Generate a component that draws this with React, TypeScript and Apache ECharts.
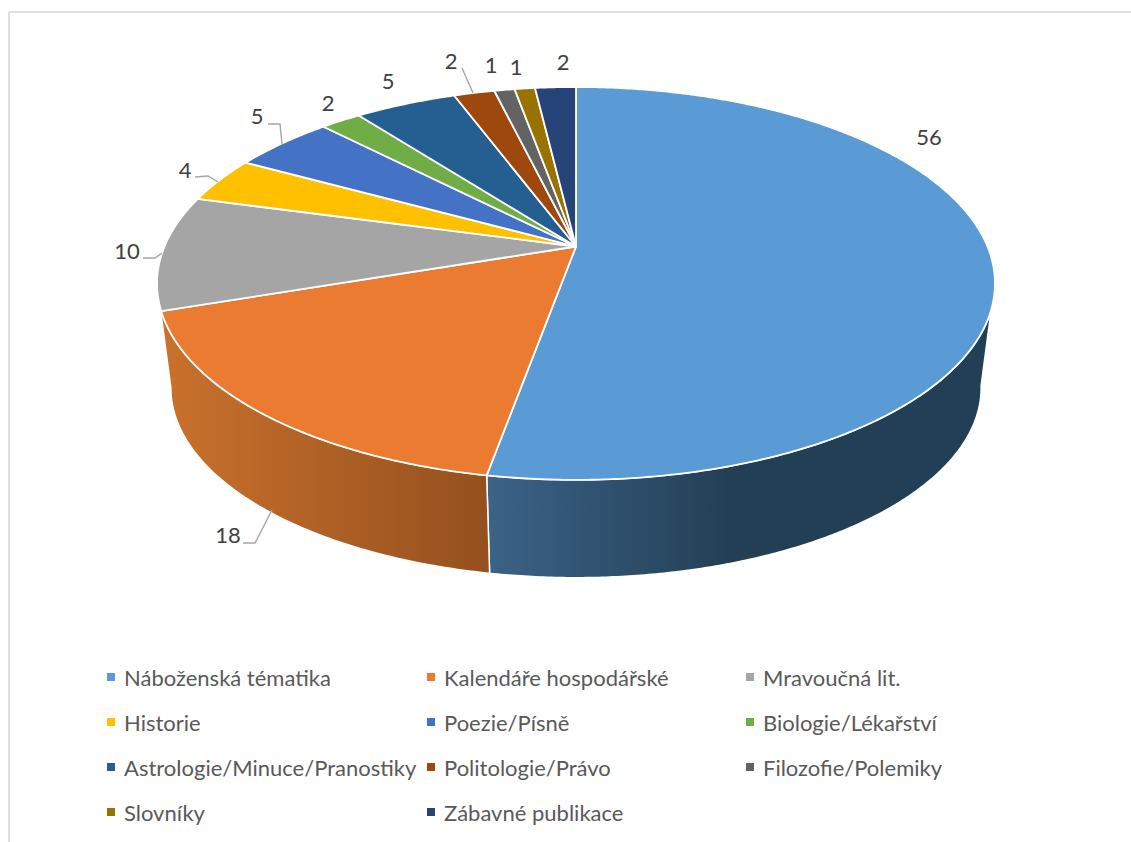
import React, { useEffect, useRef } from "react";
import * as echarts from "echarts";

const categories = [
  "Náboženská tématika",
  "Kalendáře hospodářské",
  "Mravoučná lit.",
  "Historie",
  "Poezie/Písně",
  "Biologie/Lékařství",
  "Astrologie/Minuce/Pranostiky",
  "Politologie/Právo",
  "Filozofie/Polemiky",
  "Slovníky",
  "Zábavné publikace",
];
const values = [56, 18, 10, 4, 5, 2, 5, 2, 1, 1, 2];
const colors = ["#5B9BD5", "#EA7B31", "#A5A5A5", "#FFC000", "#4472C4", "#70AD47", "#255E91", "#9E480E", "#636363", "#997300", "#264478"];

// label layout (label centre, then optional leader line)
const labelCentres = [[929, 136], [228, 534], [127, 250], [185, 169], [257, 115], [328, 102], [388, 80], [451, 60], [491, 64], [516, 66], [563, 61]];
const leaders: (number[][] | null)[] = [
  null,
  [[243, 543], [255, 543], [272, 510]],
  [[143, 258], [155, 258], [162, 253]],
  [[195, 177], [208, 176], [218, 182]],
  [[268, 124], [280, 124], [282, 144]],
  null,
  null,
  [[462, 68], [473, 93]],
  null,
  null,
  null,
];

// perspective of the pie disc
const CX = 576, CY = 246.5, A = 411.5, B = 189.5, K = 0.188;
const SHRINK = 0.967, DROP = 105.5;
const FONT = "Lato";
const SILHOUETTE_LEFT = Math.PI + Math.PI / 2 - Math.asin(K);
const SILHOUETTE_RIGHT = Math.PI / 2 + Math.asin(K);

const total = values.reduce((a, b) => a + b, 0);
function top(theta: number) {
  const X = Math.sin(theta), Y = Math.cos(theta), w = 1 + K * Y;
  return [CX + (A * X) / w, CY - (B * Y) / w];
}
function bottom(theta: number) {
  const p = top(theta);
  return [CX + (p[0] - CX) * SHRINK, CY + DROP + (p[1] - CY) * SHRINK];
}
function arc(fn: (t: number) => number[], a: number, b: number) {
  const n = Math.max(2, Math.ceil(Math.abs(b - a) / 0.008));
  const out: number[][] = [];
  for (let i = 0; i <= n; i++) out.push(fn(a + ((b - a) * i) / n));
  return out;
}
const sideGradients: Record<number, [number, number, string, string]> = {
  0: [490, 730, "#3B6287", "#233F55"],
  1: [165, 490, "#C9712C", "#94501E"],
};

function renderSlice(params: any, api: any) {
  const idx = params.seriesIndex;
  const startV = values.slice(0, idx).reduce((a, b) => a + b, 0);
  const a0 = (startV / total) * Math.PI * 2;
  const a1 = ((startV + api.value(0)) / total) * Math.PI * 2;
  const children: any[] = [];
  const g = sideGradients[idx];
  if (g) {
    const s0 = idx === 0 ? SILHOUETTE_RIGHT - 0.01 : a0;
    const s1 = idx === 1 ? SILHOUETTE_LEFT : a1;
    children.push({
      type: "polygon",
      z2: 1,
      shape: { points: [...arc(top, s0, s1), ...arc(bottom, s1, s0)] },
      style: {
        fill: new echarts.graphic.LinearGradient(g[0], 0, g[1], 0, [
          { offset: 0, color: g[2] },
          { offset: 1, color: g[3] },
        ], true),
        stroke: "#fff",
        lineWidth: 1.5,
      },
    });
  }
  children.push({
    type: "polygon",
    z2: 2,
    shape: { points: [[CX, CY], ...arc(top, a0, a1)] },
    style: { fill: colors[idx], stroke: "#fff", lineWidth: 1.8, lineJoin: "round" },
  });
  const l = leaders[idx];
  if (l) {
    children.push({
      type: "polyline",
      z2: 3,
      shape: { points: l },
      style: { fill: "none", stroke: "#A6A6A6", lineWidth: 1.4 },
    });
  }
  children.push({
    type: "text",
    z2: 4,
    x: labelCentres[idx][0],
    y: labelCentres[idx][1],
    style: {
      text: String(api.value(0)),
      fill: "#404040",
      font: `22px ${FONT}`,
      align: "center",
      verticalAlign: "middle",
    },
  });
  return { type: "group", children };
}

const legendColumns = [
  { left: 107, names: [0, 3, 6, 9] },
  { left: 427, names: [1, 4, 7, 10] },
  { left: 746, names: [2, 5, 8] },
];

export default function App() {
  const ref = useRef<HTMLDivElement>(null);
  useEffect(() => {
    const chart = echarts.init(ref.current!, null, { renderer: "svg" });
    chart.setOption({
      animation: false,
      backgroundColor: "#fff",
      graphic: [
        { type: "line", shape: { x1: 9, y1: 12, x2: 1131, y2: 12 }, style: { stroke: "#DEDEDE", lineWidth: 2 } },
        { type: "line", shape: { x1: 9, y1: 12, x2: 9, y2: 842 }, style: { stroke: "#DEDEDE", lineWidth: 2 } },
      ],
      legend: legendColumns.map((c) => ({
        orient: "vertical",
        left: c.left,
        top: 665,
        padding: 0,
        itemWidth: 8,
        itemHeight: 8,
        itemGap: 21,
        icon: "rect",
        selectedMode: false,
        data: c.names.map((i) => categories[i]),
        textStyle: { fontFamily: FONT, fontSize: 22, color: "#595959", lineHeight: 24, padding: [0, 0, 0, 4] },
      })),
      series: values.map((v, i) => ({
        type: "custom",
        name: categories[i],
        coordinateSystem: "none",
        silent: true,
        itemStyle: { color: colors[i] },
        data: [[v]],
        renderItem: renderSlice,
      })),
    });
    return () => chart.dispose();
  }, []);
  return <div ref={ref} style={{ position: "absolute", left: 0, top: 0, width: 1131, height: 842 }} />;
}
